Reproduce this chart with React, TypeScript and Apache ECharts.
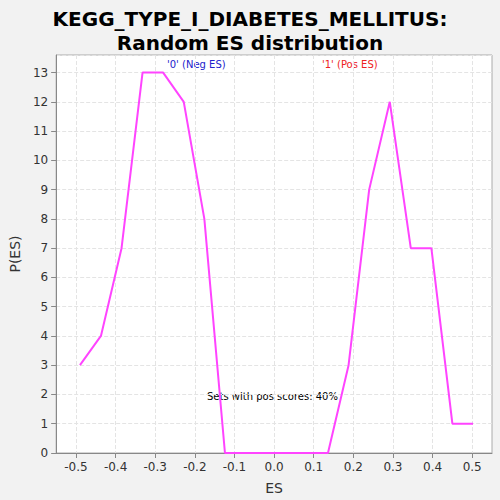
import React, { useEffect, useRef } from "react";
import * as echarts from "echarts";

const esValues = [-0.49, -0.437, -0.385, -0.332, -0.28, -0.228, -0.176, -0.124, -0.072, -0.02, 0.032, 0.084, 0.136, 0.188, 0.24, 0.292, 0.345, 0.397, 0.45, 0.502];
const pValues = [3, 4, 7, 13, 13, 12, 8, 0, 0, 0, 0, 0, 0, 3, 9, 12, 7, 7, 1, 1];
const xTicks = [-0.5, -0.4, -0.3, -0.2, -0.1, 0, 0.1, 0.2, 0.3, 0.4, 0.5];

export default function App() {
  const ref = useRef<HTMLDivElement>(null);
  useEffect(() => {
    const chart = echarts.init(ref.current!, undefined, { renderer: "svg" });
    chart.setOption({
      animation: false,
      backgroundColor: "#f2f2f2",
      title: {
        text: "KEGG_TYPE_I_DIABETES_MELLITUS:\nRandom ES distribution",
        left: "center", top: 2,
        textStyle: { fontFamily: "DejaVu Sans", fontSize: 20, fontWeight: "bold", color: "#000", lineHeight: 24 },
      },
      grid: { left: 55, right: 8, top: 55, bottom: 45, backgroundColor: "#fff", show: true, borderColor: "#aaa" },
      xAxis: {
        type: "value", min: -0.55, max: 0.55,
        name: "ES", nameLocation: "middle", nameGap: 28,
        nameTextStyle: { fontFamily: "DejaVu Sans", fontSize: 14, color: "#333" },
        axisLabel: { fontFamily: "DejaVu Sans", fontSize: 12, color: "#333", formatter: (v: number) => (Math.abs(v) < 1e-9 ? "0.0" : v.toFixed(1)), customValues: xTicks },
        axisTick: { customValues: xTicks },
        axisLine: { onZero: false, lineStyle: { color: "#888" } },
        splitLine: { show: true, lineStyle: { type: "dashed", color: "#e4e4e4" } },
      },
      yAxis: {
        type: "value", min: 0, max: 13.6, interval: 1,
        name: "P(ES)", nameLocation: "middle", nameGap: 32,
        nameTextStyle: { fontFamily: "DejaVu Sans", fontSize: 14, color: "#333" },
        axisLabel: { fontFamily: "DejaVu Sans", fontSize: 12, color: "#333", showMaxLabel: false },
        axisLine: { show: true, onZero: false, lineStyle: { color: "#888" } },
        axisTick: { show: true },
        splitLine: { show: true, lineStyle: { type: "dashed", color: "#e4e4e4" } },
      },
      series: [{
        type: "line", data: esValues.map((x, i) => [x, pValues[i]]),
        showSymbol: false, lineStyle: { color: "#ff44ff", width: 2 }, itemStyle: { color: "#ff44ff" },
      }],
      graphic: [
        { type: "text", left: 167, top: 59, style: { text: "'0' (Neg ES)", fill: "#2222cc", fontSize: 10, fontFamily: "DejaVu Sans" } },
        { type: "text", left: 322, top: 59, style: { text: "'1' (Pos ES)", fill: "#ee2222", fontSize: 10, fontFamily: "DejaVu Sans" } },
        { type: "text", left: 207, top: 391, style: { text: "Sets with pos scores: 40%", fill: "#000", fontSize: 10, fontFamily: "DejaVu Sans" } },
      ],
    });
    return () => chart.dispose();
  }, []);
  return <div ref={ref} style={{ position: "fixed", left: 0, top: 0, width: 500, height: 500 }} />;
}
